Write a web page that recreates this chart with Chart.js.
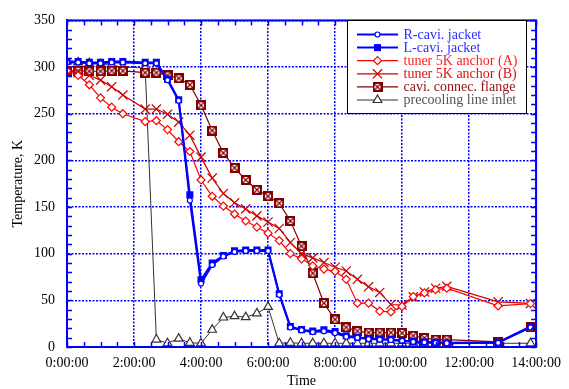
<!DOCTYPE html>
<html>
<head>
<meta charset="utf-8">
<script src="https://cdn.jsdelivr.net/npm/chart.js@4.4.1/dist/chart.umd.min.js"></script>
<style>
  html, body { margin: 0; padding: 0; background: #fff; }
  #wrap { position: relative; width: 569px; height: 389px; }
</style>
</head>
<body>
<div id="wrap"><canvas id="tempChart"></canvas></div>
<script>
// time of each reading, minutes from start of cooldown
const timeMin = [0, 20, 40, 60, 80, 100, 140, 160, 180, 200, 220, 240, 260, 280, 300, 320, 340, 360,
  380, 400, 420, 440, 460, 480, 500, 520, 540, 560, 580, 600, 620, 640, 660, 680, 772, 830];

// temperatures, K
const rCavi = [305, 305, 304, 304, 305, 305, 304, 304, 286, 264, 157, 68, 88, 97, 102, 103, 103, 103,
  56, 21, 18, 16, 17, 15, 11, 10, 8.5, 8, 7.5, 6.5, 5.5, 5, 4.5, 4, 4.5, 21];
const lCavi = [306, 306, 305, 305, 306, 306, 305, 305, 287, 265, 163, 72, 90, 98, 103, 104, 104, 104,
  57, 22, 18.6, 17, 18.5, 16.5, 12, 10.5, 9, 8.5, 8, 7, 6, 5.5, 5, 4.5, 5, 22];
const tunerA = [296, 291, 281, 267, 257, 250, 241.5, 242.5, 233, 220, 209.5, 179, 161.5, 151, 142.5, 135, 128.5, 122,
  114, 100, 94.5, 87, 83.5, 81, 72.5, 47, 47, 38.5, 37.5, 43.5, 54, 58, 61.5, 63, 44, 46.5];
const tunerB = [296, 294, 291, 286, 279, 270, 255, 255, 249.5, 241, 227, 203.5, 181, 164.5, 154.5, 148, 140.5, 134,
  127, 112, 100, 95.5, 90.5, 85.5, 81.5, 72.5, 64.5, 58.5, 45.5, 45, 53.7, 59, 63, 65, 48.4, 46.7];
const flange = [296, 296, 295.5, 295.5, 296, 296, 294, 294, 291, 288, 281, 259, 232, 208, 192, 179, 168.5, 161.5,
  154, 135, 108, 79, 47, 29.5, 21, 17, 15.5, 15.5, 15.5, 15, 12, 9.6, 8, 8, 5.5, 21];
const precool = [306, 305, 304, 303, 302, 300, 299, 8, 4, 9, 4.5, 4, 18.5, 31.6, 33, 32, 36, 43,
  4, 4.5, 4, 4, 4, 4, 4, 4, 4, 4, 4, 4, 4, 4, 4, 4, 4, 4];

const seriesNames = ["R-cavi. jacket", "L-cavi. jacket", "tuner 5K anchor (A)", "tuner 5K anchor (B)",
  "cavi. connec. flange", "precooling line inlet"];
const legendColors = ["#2b2bff", "#2b2bff", "#ff2020", "#e01010", "#8b1010", "#555555"];

const FONT = '"Liberation Serif", "Times New Roman", serif';
Chart.defaults.font.family = FONT;
Chart.defaults.font.size = 14;
Chart.defaults.color = "#000";

function pts(arr) {
  return timeMin.map((t, i) => ({ x: t, y: arr[i] }));
}

// boxed-X marker for the flange
function boxCross() {
  const c = document.createElement("canvas");
  c.width = 10; c.height = 10;
  const g = c.getContext("2d");
  g.fillStyle = "#800000"; g.fillRect(0, 0, 10, 10);
  g.fillStyle = "#fff"; g.fillRect(2, 2, 6, 6);
  g.strokeStyle = "#800000"; g.lineWidth = 1.2;
  g.beginPath();
  g.moveTo(2, 2); g.lineTo(8, 8);
  g.moveTo(8, 2); g.lineTo(2, 8);
  g.stroke();
  return c;
}

const datasets = [
  { label: seriesNames[0], data: pts(rCavi), borderColor: "#0000ff", borderWidth: 2,
    pointStyle: "circle", pointRadius: 2.5, pointBorderWidth: 1.2, pointBackgroundColor: "#fff", pointBorderColor: "#0000ff" },
  { label: seriesNames[1], data: pts(lCavi), borderColor: "#0000ff", borderWidth: 2,
    pointStyle: "rect", pointRadius: 5, pointBorderWidth: 0, pointBackgroundColor: "#0000ff", pointBorderColor: "#0000ff" },
  { label: seriesNames[2], data: pts(tunerA), borderColor: "#ff0000", borderWidth: 1.2,
    pointStyle: "rectRot", pointRadius: 4, pointBorderWidth: 1.2, pointBackgroundColor: "#fff", pointBorderColor: "#ff0000" },
  { label: seriesNames[3], data: pts(tunerB), borderColor: "#cc0000", borderWidth: 1.2,
    pointStyle: "crossRot", pointRadius: 6.5, pointBorderWidth: 1.2, pointBackgroundColor: "#cc0000", pointBorderColor: "#cc0000" },
  { label: seriesNames[4], data: pts(flange), borderColor: "#800000", borderWidth: 1.2,
    pointStyle: boxCross(), pointRadius: 5, pointBorderWidth: 1, pointBackgroundColor: "#800000", pointBorderColor: "#800000" },
  { label: seriesNames[5], data: pts(precool), borderColor: "#333333", borderWidth: 1,
    pointStyle: "triangle", pointRadius: 5, pointBorderWidth: 1.2, pointBackgroundColor: "#fff", pointBorderColor: "#333333" }
];
datasets.forEach(d => { d.pointHoverRadius = d.pointRadius; d.tension = 0; d.fill = false; });

// frame + inward minor ticks
const frameTicks = {
  id: "frameTicks",
  afterDatasetsDraw(chart) {
    const { ctx, chartArea: a, scales: { x, y } } = chart;
    ctx.save();
    ctx.strokeStyle = "#0000ff";
    ctx.lineWidth = 1.5;
    ctx.beginPath();
    for (let v = 0; v <= 840; v += 30) {
      const px = Math.round(x.getPixelForValue(v)) + 0.5;
      ctx.moveTo(px, a.bottom); ctx.lineTo(px, a.bottom - 5);
      ctx.moveTo(px, a.top); ctx.lineTo(px, a.top + 5);
    }
    for (let v = 0; v <= 350; v += 10) {
      const py = Math.round(y.getPixelForValue(v)) + 0.5;
      ctx.moveTo(a.left, py); ctx.lineTo(a.left + 5, py);
      ctx.moveTo(a.right, py); ctx.lineTo(a.right - 5, py);
    }
    ctx.stroke();
    ctx.lineWidth = 2;
    ctx.strokeRect(a.left, a.top, a.right - a.left, a.bottom - a.top);
    ctx.restore();
  }
};

// boxed legend in the upper right
const legendBox = {
  id: "legendBox",
  afterDraw(chart) {
    const ctx = chart.ctx;
    ctx.save();
    ctx.fillStyle = "#fff";
    ctx.fillRect(347.5, 20.5, 179, 93);
    ctx.strokeStyle = "#000";
    ctx.lineWidth = 1;
    ctx.strokeRect(347.5, 20.5, 179, 93);
    ctx.font = "14px " + FONT;
    ctx.textBaseline = "middle";
    chart.data.datasets.forEach((ds, i) => {
      const yy = 34.5 + i * 13.1;
      ctx.strokeStyle = ds.borderColor;
      ctx.lineWidth = ds.borderWidth;
      ctx.beginPath();
      ctx.moveTo(357, yy); ctx.lineTo(398, yy);
      ctx.stroke();
      ctx.fillStyle = ds.pointBackgroundColor;
      ctx.strokeStyle = ds.pointBorderColor;
      ctx.lineWidth = ds.pointBorderWidth;
      Chart.helpers.drawPoint(ctx, { pointStyle: ds.pointStyle, radius: ds.pointRadius, borderWidth: ds.pointBorderWidth, rotation: 0 }, 377.5, yy);
      ctx.fillStyle = legendColors[i];
      ctx.fillText(ds.label, 403.5, yy + 0.5);
    });
    ctx.restore();
  }
};

new Chart(document.getElementById("tempChart"), {
  type: "line",
  data: { datasets },
  plugins: [frameTicks, legendBox],
  options: {
    responsive: true,
    maintainAspectRatio: false,
    animation: false,
    layout: { padding: { top: 14, right: 30, left: 0, bottom: 0 } },
    plugins: { legend: { display: false }, tooltip: { enabled: false } },
    scales: {
      x: {
        type: "linear", min: 0, max: 840,
        afterFit: s => { s.height = 42; },
        ticks: { stepSize: 120, padding: 8, callback: v => (v / 60) + ":00:00" },
        grid: { color: "#0000ff", lineWidth: 1.5, drawTicks: false },
        border: { display: true, color: "#0000ff", width: 2, dash: [2, 1.5] },
        title: { display: true, text: "Time", padding: { top: 0, bottom: -1 } }
      },
      y: {
        min: 0, max: 350,
        afterFit: s => { s.width = 67; },
        ticks: { stepSize: 50, padding: 12 },
        grid: { color: "#0000ff", lineWidth: 1.5, drawTicks: false },
        border: { display: true, color: "#0000ff", width: 2, dash: [2, 1.5] },
        title: { display: true, text: "Temperature, K", padding: { top: 10, bottom: 4 } }
      }
    }
  }
});
</script>
</body>
</html>
